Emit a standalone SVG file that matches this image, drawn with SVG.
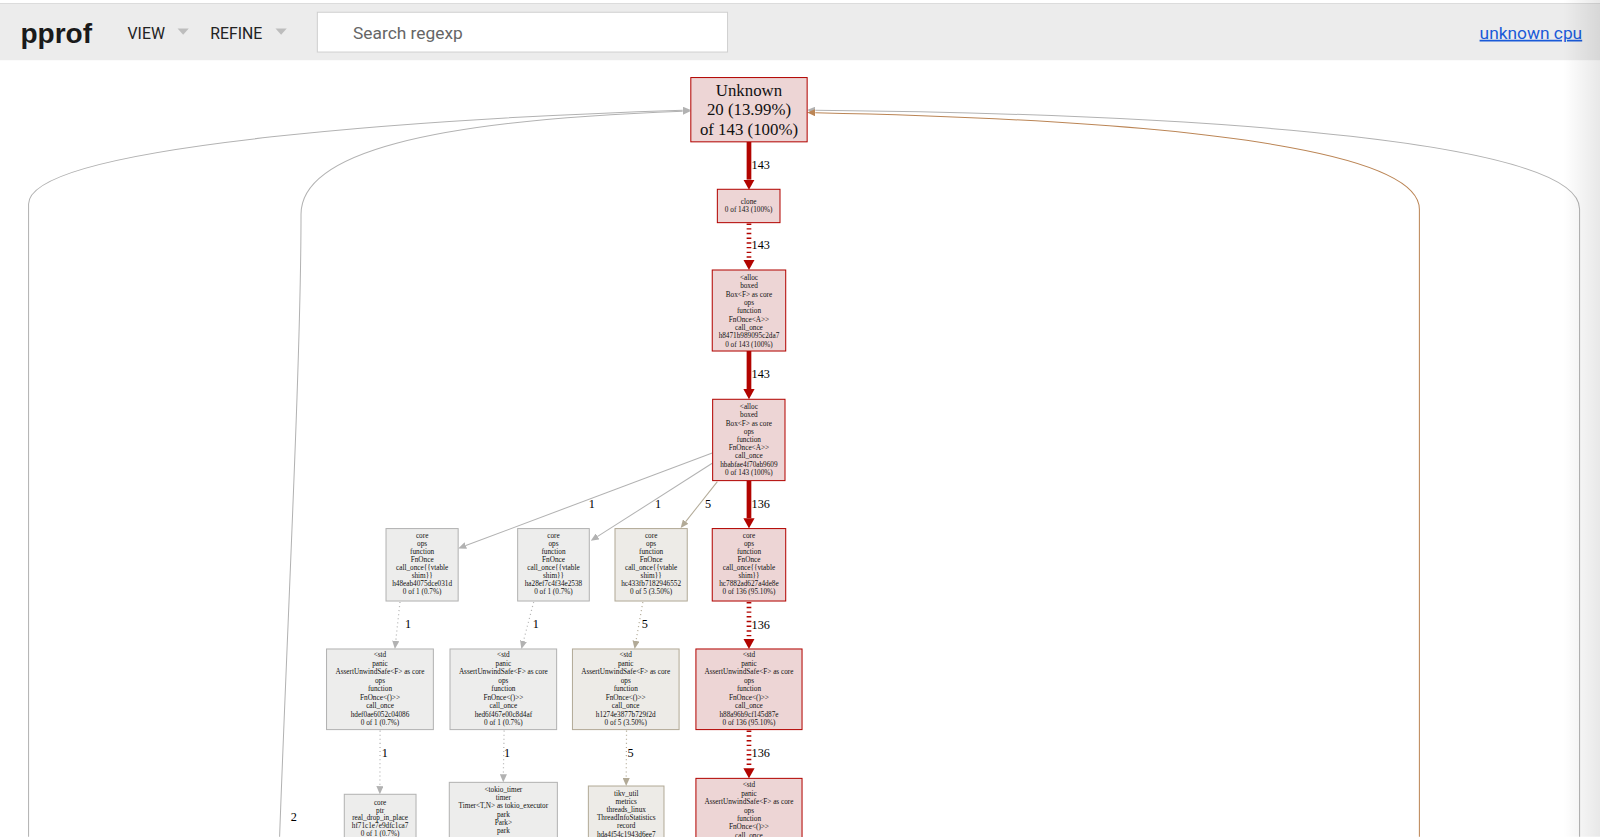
<svg xmlns="http://www.w3.org/2000/svg" width="1600" height="837" viewBox="0 0 1600 837">
<defs>
<style>
.nr{fill:#edd5d5;stroke:#b20400;stroke-width:1}
.ng{fill:#ededec;stroke:#b2b2b2;stroke-width:1}
.nt{fill:#edebe7;stroke:#b2aa97;stroke-width:1}
.t{font-family:"Liberation Serif",serif;font-size:7.1px;text-anchor:middle;fill:#111}
.tb{font-family:"Liberation Serif",serif;font-size:16.5px;text-anchor:middle;fill:#111}
.el{font-family:"Liberation Serif",serif;font-size:12px;fill:#000}
.er{fill:none;stroke:#b20400;stroke-width:4.6}
.erd{fill:none;stroke:#b20400;stroke-width:4.6;stroke-dasharray:1.4 3.2}
.eg{fill:none;stroke:#b2b2b2;stroke-width:1}
.egd{fill:none;stroke:#b2b2b2;stroke-width:1.2;stroke-dasharray:1 3}
.et{fill:none;stroke:#b2aa97;stroke-width:1}
.etd{fill:none;stroke:#b2aa97;stroke-width:1.2;stroke-dasharray:1 3}
.eb{fill:none;stroke:#bb8555;stroke-width:1}
.hd{font-family:Roboto,"Liberation Sans",sans-serif;fill:#222}
</style>
<marker id="mr" viewBox="0 0 10 10" refX="0" refY="5" markerWidth="10" markerHeight="11" markerUnits="userSpaceOnUse" orient="auto" preserveAspectRatio="none"><path d="M0,0L10,5L0,10z" fill="#b20400"/></marker>
<marker id="mg" viewBox="0 0 10 10" refX="0" refY="5" markerWidth="8" markerHeight="7" markerUnits="userSpaceOnUse" orient="auto" preserveAspectRatio="none"><path d="M0,0L10,5L0,10z" fill="#b2b2b2"/></marker>
<marker id="mt" viewBox="0 0 10 10" refX="0" refY="5" markerWidth="8" markerHeight="7" markerUnits="userSpaceOnUse" orient="auto" preserveAspectRatio="none"><path d="M0,0L10,5L0,10z" fill="#b2aa97"/></marker>
<marker id="mb" viewBox="0 0 10 10" refX="0" refY="5" markerWidth="8" markerHeight="7" markerUnits="userSpaceOnUse" orient="auto" preserveAspectRatio="none"><path d="M0,0L10,5L0,10z" fill="#bb8555"/></marker>
<linearGradient id="shade" x1="0" y1="0" x2="1" y2="0"><stop offset="0" stop-color="#000" stop-opacity="0"/><stop offset="1" stop-color="#000" stop-opacity="0.09"/></linearGradient>
</defs>
<rect x="0" y="0" width="1600" height="837" fill="#fff"/>
<g transform="scale(1.020408)">
<g id="header">
<rect x="0" y="3" width="1568" height="56" fill="#ececec"/>
<line x1="0" y1="3.5" x2="1568" y2="3.5" stroke="#dcdcdc" stroke-width="1"/>
<text x="20" y="42" font-family="'Liberation Sans',Roboto,sans-serif" font-size="27.5" font-weight="bold" fill="#1a1a1a">pprof</text>
<text class="hd" x="125" y="38" font-size="15.5">VIEW</text>
<polygon points="174,28 185,28 179.5,34" fill="#bdbdbd"/>
<text class="hd" x="206" y="38" font-size="15.5">REFINE</text>
<polygon points="270,28 281,28 275.5,34" fill="#bdbdbd"/>
<rect x="311" y="12" width="402" height="39" fill="#fff" stroke="#d0d0d0" stroke-width="1"/>
<text x="346" y="38" font-family="Roboto,'Liberation Sans',sans-serif" font-size="17" fill="#666">Search regexp</text>
<text x="1450" y="38" font-family="Roboto,'Liberation Sans',sans-serif" font-size="17" fill="#1a5ad8" text-decoration="underline">unknown cpu</text>
</g>

<g id="edges">
<path class="eg" d="M28,820 L28,200 C28,140 450,115 669,108" marker-end="url(#mg)"/>
<path class="eg" d="M274,820 C282,600 295,350 295,210 C295,150 420,118 669,109" marker-end="url(#mg)"/>
<path class="eg" d="M1548,820 L1548,205 C1548,140 1200,112 799,108" marker-end="url(#mg)"/>
<path class="eb" d="M1391,820 L1391,205 C1391,160 1250,120 799,110.5" marker-end="url(#mb)"/>
<text class="el" x="285" y="805">2</text>

<path class="er" d="M734,139 L734,176" marker-end="url(#mr)"/>
<text class="el" x="736.5" y="166">143</text>
<path class="erd" d="M734,219 L734,254.6" marker-end="url(#mr)"/>
<text class="el" x="736.5" y="244">143</text>
<path class="er" d="M734,344 L734,381.3" marker-end="url(#mr)"/>
<text class="el" x="736.5" y="370">143</text>
<path class="er" d="M734,471 L734,507.8" marker-end="url(#mr)"/>
<text class="el" x="736.5" y="498">136</text>

<path class="eg" d="M698,444 L456.5,534.6" marker-end="url(#mg)"/>
<text class="el" x="577" y="498">1</text>
<path class="eg" d="M698,454 L585.7,525.7" marker-end="url(#mg)"/>
<text class="el" x="642" y="498">1</text>
<path class="et" d="M703,472 L672,511.2" marker-end="url(#mt)"/>
<text class="el" x="691" y="498">5</text>

<path class="egd" d="M392,590 L387.85,628" marker-end="url(#mg)"/>
<text class="el" x="397" y="615.5">1</text>
<path class="egd" d="M523,590 L513,628.2" marker-end="url(#mg)"/>
<text class="el" x="522" y="615.5">1</text>
<path class="etd" d="M630,590 L623.3,628.1" marker-end="url(#mt)"/>
<text class="el" x="629" y="615.5">5</text>
<path class="erd" d="M734,590 L734,626" marker-end="url(#mr)"/>
<text class="el" x="736.5" y="616">136</text>

<path class="egd" d="M372.5,716 L372.3,770.4" marker-end="url(#mg)"/>
<text class="el" x="374" y="742">1</text>
<path class="egd" d="M494,716 L493.3,758.7" marker-end="url(#mg)"/>
<text class="el" x="494" y="742">1</text>
<path class="etd" d="M614,716 L613.7,762.3" marker-end="url(#mt)"/>
<text class="el" x="615" y="742">5</text>
<path class="erd" d="M734,716 L734,752.8" marker-end="url(#mr)"/>
<text class="el" x="736.5" y="742">136</text>
</g>

<g id="n-unknown">
<rect class="nr" x="677" y="76" width="114" height="63"/>
<text class="tb" x="734" y="94.2">Unknown</text>
<text class="tb" x="734" y="113.1">20 (13.99%)</text>
<text class="tb" x="734" y="132">of 143 (100%)</text>
</g>
<g id="n-clone">
<rect class="nr" x="703" y="185.5" width="61.4" height="32.7"/>
<text class="t" x="733.7" y="200">clone</text>
<text class="t" x="733.7" y="208.2">0 of 143 (100%)</text>
</g>
<g id="n-alloc1">
<rect class="nr" x="698" y="264.6" width="72" height="79.4"/>
<text class="t" x="734" y="274.4">&lt;alloc</text>
<text class="t" x="734" y="282.55">boxed</text>
<text class="t" x="734" y="290.7">Box&lt;F&gt; as core</text>
<text class="t" x="734" y="298.85">ops</text>
<text class="t" x="734" y="307">function</text>
<text class="t" x="734" y="315.15">FnOnce&lt;A&gt;&gt;</text>
<text class="t" x="734" y="323.3">call_once</text>
<text class="t" x="734" y="331.45">h8471b989095c2da7</text>
<text class="t" x="734" y="339.6">0 of 143 (100%)</text>
</g>
<g id="n-alloc2">
<rect class="nr" x="698.4" y="391.3" width="70.9" height="79.7"/>
<text class="t" x="733.9" y="400.9">&lt;alloc</text>
<text class="t" x="733.9" y="408.95">boxed</text>
<text class="t" x="733.9" y="417">Box&lt;F&gt; as core</text>
<text class="t" x="733.9" y="425.05">ops</text>
<text class="t" x="733.9" y="433.1">function</text>
<text class="t" x="733.9" y="441.15">FnOnce&lt;A&gt;&gt;</text>
<text class="t" x="733.9" y="449.2">call_once</text>
<text class="t" x="733.9" y="457.25">hbabfae4f70ab9609</text>
<text class="t" x="733.9" y="465.3">0 of 143 (100%)</text>
</g>

<g id="n-coreA">
<rect class="ng" x="378.3" y="518" width="70.7" height="71"/>
<text class="t" x="413.7" y="527.4">core</text>
<text class="t" x="413.7" y="535.15">ops</text>
<text class="t" x="413.7" y="542.9">function</text>
<text class="t" x="413.7" y="550.65">FnOnce</text>
<text class="t" x="413.7" y="558.4">call_once{{vtable</text>
<text class="t" x="413.7" y="566.15">shim}}</text>
<text class="t" x="413.7" y="573.9">h48eab4075dce031d</text>
<text class="t" x="413.7" y="581.65">0 of 1 (0.7%)</text>
</g>
<g id="n-coreB">
<rect class="ng" x="507.3" y="518" width="70.2" height="71"/>
<text class="t" x="542.4" y="527.4">core</text>
<text class="t" x="542.4" y="535.15">ops</text>
<text class="t" x="542.4" y="542.9">function</text>
<text class="t" x="542.4" y="550.65">FnOnce</text>
<text class="t" x="542.4" y="558.4">call_once{{vtable</text>
<text class="t" x="542.4" y="566.15">shim}}</text>
<text class="t" x="542.4" y="573.9">ha28ef7c4f34e2538</text>
<text class="t" x="542.4" y="581.65">0 of 1 (0.7%)</text>
</g>
<g id="n-coreC">
<rect class="nt" x="602.7" y="518" width="70.8" height="71"/>
<text class="t" x="638.1" y="527.4">core</text>
<text class="t" x="638.1" y="535.15">ops</text>
<text class="t" x="638.1" y="542.9">function</text>
<text class="t" x="638.1" y="550.65">FnOnce</text>
<text class="t" x="638.1" y="558.4">call_once{{vtable</text>
<text class="t" x="638.1" y="566.15">shim}}</text>
<text class="t" x="638.1" y="573.9">hc433fb7182946552</text>
<text class="t" x="638.1" y="581.65">0 of 5 (3.50%)</text>
</g>
<g id="n-coreD">
<rect class="nr" x="698" y="518" width="72" height="71"/>
<text class="t" x="734" y="527.4">core</text>
<text class="t" x="734" y="535.15">ops</text>
<text class="t" x="734" y="542.9">function</text>
<text class="t" x="734" y="550.65">FnOnce</text>
<text class="t" x="734" y="558.4">call_once{{vtable</text>
<text class="t" x="734" y="566.15">shim}}</text>
<text class="t" x="734" y="573.9">hc7882ad627a4de8e</text>
<text class="t" x="734" y="581.65">0 of 136 (95.10%)</text>
</g>

<g id="n-stdA">
<rect class="ng" x="320" y="636" width="104.7" height="79"/>
<text class="t" x="372.4" y="644.3">&lt;std</text>
<text class="t" x="372.4" y="652.6">panic</text>
<text class="t" x="372.4" y="660.9">AssertUnwindSafe&lt;F&gt; as core</text>
<text class="t" x="372.4" y="669.2">ops</text>
<text class="t" x="372.4" y="677.5">function</text>
<text class="t" x="372.4" y="685.8">FnOnce&lt;()&gt;&gt;</text>
<text class="t" x="372.4" y="694.1">call_once</text>
<text class="t" x="372.4" y="702.4">hdef0ae6052c04086</text>
<text class="t" x="372.4" y="710.7">0 of 1 (0.7%)</text>
</g>
<g id="n-stdB">
<rect class="ng" x="441" y="636" width="104.5" height="79"/>
<text class="t" x="493.3" y="644.3">&lt;std</text>
<text class="t" x="493.3" y="652.6">panic</text>
<text class="t" x="493.3" y="660.9">AssertUnwindSafe&lt;F&gt; as core</text>
<text class="t" x="493.3" y="669.2">ops</text>
<text class="t" x="493.3" y="677.5">function</text>
<text class="t" x="493.3" y="685.8">FnOnce&lt;()&gt;&gt;</text>
<text class="t" x="493.3" y="694.1">call_once</text>
<text class="t" x="493.3" y="702.4">hed6f467e00c8d4af</text>
<text class="t" x="493.3" y="710.7">0 of 1 (0.7%)</text>
</g>
<g id="n-stdC">
<rect class="nt" x="561" y="636" width="104.5" height="79"/>
<text class="t" x="613.2" y="644.3">&lt;std</text>
<text class="t" x="613.2" y="652.6">panic</text>
<text class="t" x="613.2" y="660.9">AssertUnwindSafe&lt;F&gt; as core</text>
<text class="t" x="613.2" y="669.2">ops</text>
<text class="t" x="613.2" y="677.5">function</text>
<text class="t" x="613.2" y="685.8">FnOnce&lt;()&gt;&gt;</text>
<text class="t" x="613.2" y="694.1">call_once</text>
<text class="t" x="613.2" y="702.4">h1274e3877b729f2d</text>
<text class="t" x="613.2" y="710.7">0 of 5 (3.50%)</text>
</g>
<g id="n-stdD">
<rect class="nr" x="682" y="636" width="104" height="79"/>
<text class="t" x="734" y="644.3">&lt;std</text>
<text class="t" x="734" y="652.6">panic</text>
<text class="t" x="734" y="660.9">AssertUnwindSafe&lt;F&gt; as core</text>
<text class="t" x="734" y="669.2">ops</text>
<text class="t" x="734" y="677.5">function</text>
<text class="t" x="734" y="685.8">FnOnce&lt;()&gt;&gt;</text>
<text class="t" x="734" y="694.1">call_once</text>
<text class="t" x="734" y="702.4">h88a96b9cf145d87e</text>
<text class="t" x="734" y="710.7">0 of 136 (95.10%)</text>
</g>

<g id="n-coreptr">
<rect class="ng" x="337.4" y="778.4" width="70.3" height="46"/>
<text class="t" x="372.5" y="788.7">core</text>
<text class="t" x="372.5" y="796.3">ptr</text>
<text class="t" x="372.5" y="803.9">real_drop_in_place</text>
<text class="t" x="372.5" y="811.5">hf71c1e7e9dfc1ca7</text>
<text class="t" x="372.5" y="819.1">0 of 1 (0.7%)</text>
</g>
<g id="n-tokio">
<rect class="ng" x="440.3" y="766.7" width="105.9" height="75"/>
<text class="t" x="493.3" y="775.9">&lt;tokio_timer</text>
<text class="t" x="493.3" y="784">timer</text>
<text class="t" x="493.3" y="792.1">Timer&lt;T,N&gt; as tokio_executor</text>
<text class="t" x="493.3" y="800.2">park</text>
<text class="t" x="493.3" y="808.3">Park&gt;</text>
<text class="t" x="493.3" y="816.4">park</text>
</g>
<g id="n-tikv">
<rect class="nt" x="576.6" y="770.3" width="74.1" height="72"/>
<text class="t" x="613.7" y="779.9">tikv_util</text>
<text class="t" x="613.7" y="787.9">metrics</text>
<text class="t" x="613.7" y="795.9">threads_linux</text>
<text class="t" x="613.7" y="803.9">ThreadInfoStatistics</text>
<text class="t" x="613.7" y="811.9">record</text>
<text class="t" x="613.7" y="819.9">hda4f54c1943d6ee7</text>
</g>
<g id="n-stdD2">
<rect class="nr" x="682" y="762.8" width="104" height="80"/>
<text class="t" x="734" y="771.7">&lt;std</text>
<text class="t" x="734" y="779.9">panic</text>
<text class="t" x="734" y="788.1">AssertUnwindSafe&lt;F&gt; as core</text>
<text class="t" x="734" y="796.3">ops</text>
<text class="t" x="734" y="804.5">function</text>
<text class="t" x="734" y="812.7">FnOnce&lt;()&gt;&gt;</text>
<text class="t" x="734" y="820.9">call_once</text>
</g>
<rect x="1532" y="0" width="36" height="820" fill="url(#shade)"/>
</g>
</svg>
